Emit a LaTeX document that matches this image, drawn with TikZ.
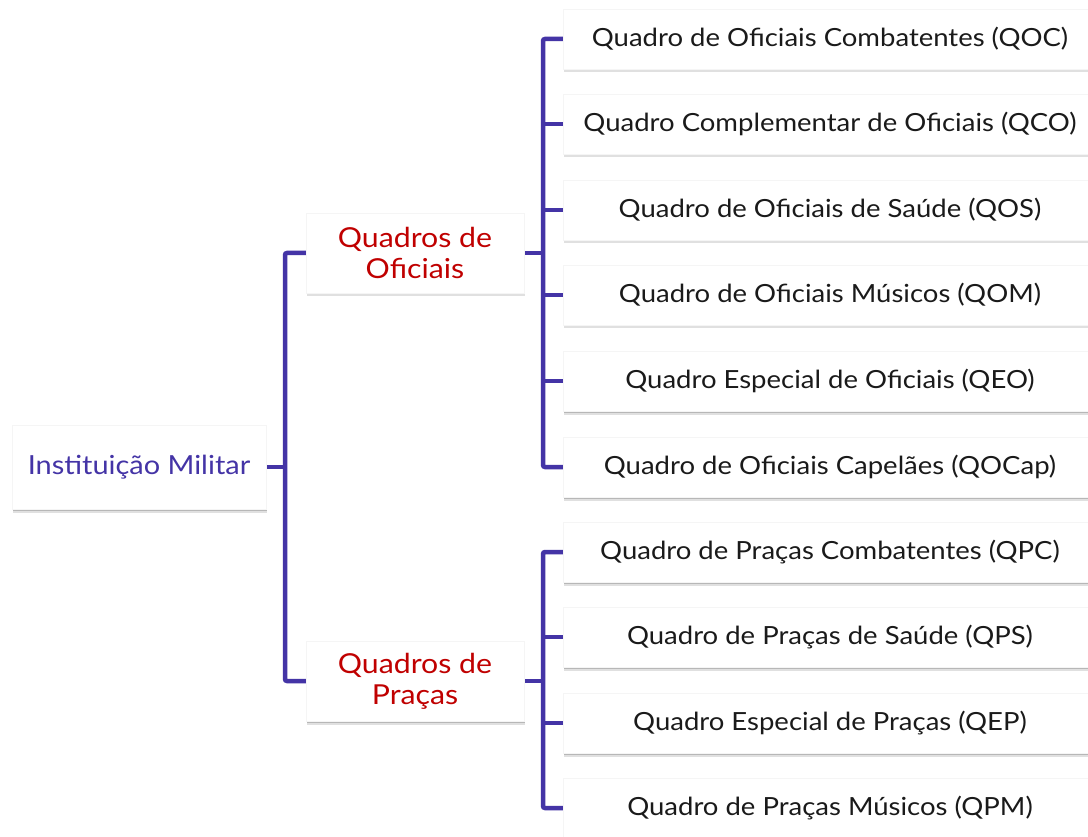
\documentclass[tikz,border=0pt]{standalone}
\usepackage{fontspec}
\setmainfont[FakeStretch=1.1]{Lato}
\usetikzlibrary{shadows}
\definecolor{lineviolet}{HTML}{4434A6}
\definecolor{midred}{HTML}{C00000}
\definecolor{leaftext}{HTML}{1A1A1A}
\tikzset{
  card/.style={draw=black!4, fill=white, inner sep=0pt,
    drop shadow={shadow xshift=0.6pt, shadow yshift=-1.5pt, opacity=.18, fill=black},
    drop shadow={shadow xshift=1.2pt, shadow yshift=-3.5pt, opacity=.12, fill=black}},
  rootbox/.style={card, minimum width=254pt, minimum height=84pt, text=lineviolet, font=\fontsize{26.3}{30}\selectfont},
  midbox/.style={card, minimum width=218pt, minimum height=80pt, text=midred, align=center, font=\fontsize{27.5}{31}\selectfont},
  leafbox/.style={card, minimum width=534pt, minimum height=60pt, text=leaftext, font=\fontsize{25}{30}\selectfont},
  conn/.style={draw=lineviolet, line width=4.5pt, rounded corners=2pt},
}
\begin{document}
\begin{tikzpicture}[x=1pt, y=-1pt]
\clip (0,0) rectangle (1088,837);
\fill[white] (0,0) rectangle (1088,837);

\coordinate (t0) at (285,467);
\coordinate (j1) at (543,253);
\coordinate (j2) at (543,681);

% connectors (drawn first, under the cards)
\draw[conn] (139,467) -- (t0);
\draw[conn] (415,253) -| (t0) |- (415,681);
\draw[conn] (415,253) -- (j1);
\draw[conn] (415,681) -- (j2);
\draw[conn] (600,39) -| (j1) |- (600,467);
\draw[conn] (600,552) -| (j2) |- (600,808);
\foreach \y in {124,210,295,381} \draw[conn] (543,\y) -- (600,\y);
\foreach \y in {637,723} \draw[conn] (543,\y) -- (600,\y);

\node[rootbox] (root) at (139,467) {Instituição Militar};
\node[midbox] (oq) at (415,253) {Quadros de\\Oficiais};
\node[midbox] (pq) at (415,681) {Quadros de\\Praças};

\node[leafbox] (l1) at (830,39) {Quadro de Oficiais Combatentes (QOC)};
\node[leafbox] (l2) at (830,124) {Quadro Complementar de Oficiais (QCO)};
\node[leafbox] (l3) at (830,210) {Quadro de Oficiais de Saúde (QOS)};
\node[leafbox] (l4) at (830,295) {Quadro de Oficiais Músicos (QOM)};
\node[leafbox] (l5) at (830,381) {Quadro Especial de Oficiais (QEO)};
\node[leafbox] (l6) at (830,467) {Quadro de Oficiais Capelães (QOCap)};
\node[leafbox] (l7) at (830,552) {Quadro de Praças Combatentes (QPC)};
\node[leafbox] (l8) at (830,637) {Quadro de Praças de Saúde (QPS)};
\node[leafbox] (l9) at (830,723) {Quadro Especial de Praças (QEP)};
\node[leafbox] (l10) at (830,808) {Quadro de Praças Músicos (QPM)};
\end{tikzpicture}
\end{document}
